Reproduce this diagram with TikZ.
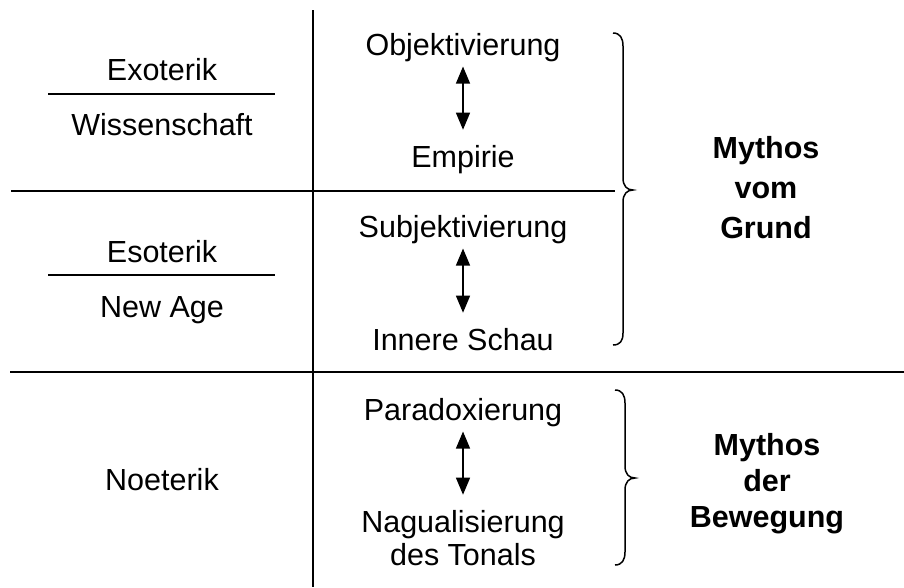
\documentclass[tikz,border=0pt]{standalone}
\usepackage{fontspec}
\setmainfont{Liberation Sans}
\usetikzlibrary{arrows.meta}
\begin{document}
\begin{tikzpicture}[x=1pt,y=-1pt,
  txt/.style={anchor=base, inner sep=0pt, font=\fontsize{30.5}{36}\selectfont},
  btxt/.style={anchor=base, inner sep=0pt, font=\fontsize{30.5}{36}\selectfont\bfseries},
  rule/.style={line width=2.2pt},
  divider/.style={line width=1.1pt},
  dblarrow/.style={line width=1.3pt, {Triangle[width=14pt,length=17pt]}-{Triangle[width=14pt,length=17pt]}, shorten <=5pt, shorten >=15pt},
  bracestyle/.style={line width=1.5pt}]
\useasboundingbox (0,0) rectangle (904,587);

% grid lines
\draw[rule] (313,10) -- (313,587);
\draw[rule] (11,191) -- (615,191);
\draw[rule] (10,372) -- (904,372);

% left column
\node[txt] (exo) at (162,80) {Exoterik};
\node[txt] (wis) at (162,135) {Wissenschaft};
\draw[divider] (48,94) -- (275,94);
\node[txt] (eso) at (162,262) {Esoterik};
\node[txt] (nage) at (162,317) {New Age};
\draw[divider] (48,275) -- (275,275);
\node[txt] (noe) at (162,490) {Noeterik};

% middle column
\node[txt] (obj) at (463,55) {Objektivierung};
\node[txt] (emp) at (463,167) {Empirie};
\node[txt] (subj) at (463,237) {Subjektivierung};
\node[txt] (inn) at (463,350) {Innere Schau};
\node[txt] (para) at (463,420) {Paradoxierung};
\node[txt] (nag) at (463,532) {Nagualisierung};
\node[txt] (ton) at (463,565) {des Tonals};

\draw[dblarrow] (obj.south) -- (emp.north);
\draw[dblarrow] (subj.south) -- (inn.north);
\draw[dblarrow] (para.south) -- (nag.north);

% braces
\draw[bracestyle] (613,33) .. controls (620,33) and (623,38) .. (623,46) -- (623,178)
  .. controls (623,186) and (627,190) .. (633,190)
  .. controls (627,190) and (623,194) .. (623,202) -- (623,333)
  .. controls (623,341) and (620,345) .. (613,345);
\draw[bracestyle] (615,390) .. controls (622,390) and (625,395) .. (625,403) -- (625,466)
  .. controls (625,474) and (629,478) .. (635,478)
  .. controls (629,478) and (625,482) .. (625,490) -- (625,552)
  .. controls (625,560) and (622,565) .. (615,565);

% right labels
\node[btxt] (m1) at (766,158) {Mythos};
\node[btxt] (m2) at (766,198) {vom};
\node[btxt] (m3) at (766,238) {Grund};
\node[btxt] (b1) at (767,455) {Mythos};
\node[btxt] (b2) at (767,491) {der};
\node[btxt] (b3) at (767,527) {Bewegung};
\end{tikzpicture}
\end{document}
